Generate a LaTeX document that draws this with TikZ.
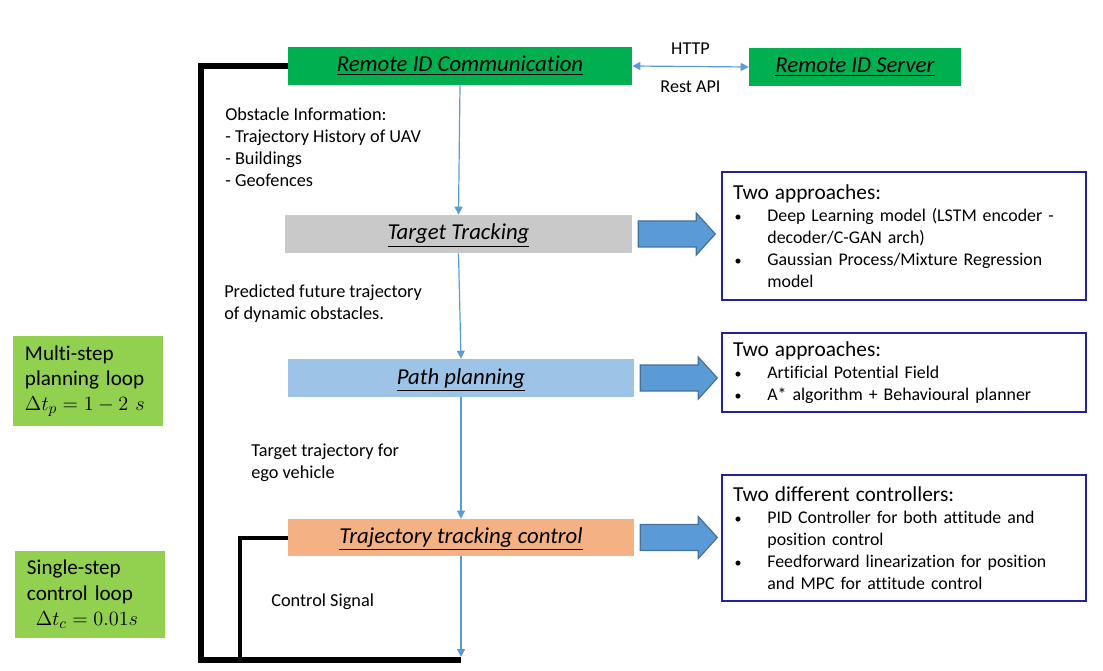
\documentclass[tikz,border=0pt]{standalone}
\usepackage{fontspec}
\setmainfont{Carlito}[Ligatures={NoCommon}]
\usetikzlibrary{arrows.meta,calc}

\definecolor{ridgreen}{HTML}{00B050}
\definecolor{trackgray}{HTML}{C9C9C9}
\definecolor{planblue}{HTML}{9DC3E6}
\definecolor{ctrlorange}{HTML}{F4B183}
\definecolor{loopgreen}{HTML}{92D050}
\definecolor{flowblue}{HTML}{5B9BD5}
\definecolor{arrowedge}{HTML}{41719C}
\definecolor{infoblue}{HTML}{2222A0}

\newcommand{\stagetitle}[1]{\underline{\textit{#1}}}
\newcommand{\infohead}[1]{{\fontsize{15.2}{17}\selectfont #1}}
\newcommand{\bitem}[1]{\par\noindent\makebox[8.6mm][l]{\hspace{0.4mm}{\fontsize{10}{10}\selectfont\textbullet}}%
  \parbox[t]{74mm}{\raggedright #1\par\xdef\itemdepth{\the\prevdepth}}\par\prevdepth=\itemdepth\relax}

\tikzset{
  stage/.style={minimum height=9.5mm, inner sep=0pt, text height=4mm, text depth=1mm, font=\fontsize{16.2}{18}\selectfont},
  looplabel/.style={fill=loopgreen, minimum width=37.5mm, text width=31.5mm, inner xsep=3mm, align=left, font=\fontsize{15}{18}\selectfont},
  infobox/.style={draw=infoblue, line width=0.35mm, minimum width=91mm, text width=85.5mm, inner xsep=2.75mm, align=left, font=\fontsize{12.7}{15.6}\selectfont},
  note/.style={anchor=north west, align=left, inner sep=0pt, font=\fontsize{13}{15.6}\selectfont},
  flow/.style={draw=flowblue, line width=0.3mm, -{Triangle[length=2mm,width=2mm]}},
  feedback/.style={line width=1.5mm},
  innerloop/.style={line width=1mm},
  blockarrow/.style={fill=flowblue, draw=arrowedge, line width=0.3mm}
}

\begin{document}
\begin{tikzpicture}[x=0.25mm, y=-0.25mm]
\useasboundingbox (0,0) rectangle (1103,671);

% main stages
\node[stage, fill=ridgreen, minimum width=86mm] (ric) at (460,66) {\stagetitle{Remote ID Communication}};
\node[stage, fill=ridgreen, minimum width=53mm] (ris) at (855,67) {\stagetitle{Remote ID Server}};
\node[stage, fill=trackgray, minimum width=86.75mm] (tt) at (458.5,234) {\stagetitle{Target Tracking}};
\node[stage, fill=planblue, minimum width=86.5mm] (pp) at (461,378) {\stagetitle{Path planning}};
\node[stage, fill=ctrlorange, minimum width=86.5mm, minimum height=9.25mm] (tc) at (461,537.5) {\stagetitle{Trajectory tracking control}};

% loop rates
\node[looplabel, minimum height=22.5mm] (multi) at (88,381) {Multi-step\\planning loop\\$\Delta t_p = 1-2\ s$};
\node[looplabel, minimum height=21.75mm] (single) at (90,594.5) {Single-step\\control loop\\\hspace{2.2mm}$\Delta t_c = 0.01s$};

% details
\node[infobox, minimum height=32mm] (ttinfo) at (904,236) {\infohead{Two approaches:}
  \bitem{Deep Learning model (LSTM encoder - decoder/C-GAN arch)}
  \bitem{Gaussian Process/Mixture Regression model}};
\node[infobox, minimum height=19.75mm] (ppinfo) at (904,372.5) {\infohead{Two approaches:}
  \bitem{Artificial Potential Field}
  \bitem{A* algorithm + Behavioural planner}};
\node[infobox, minimum height=31.5mm] (tcinfo) at (904,538) {\infohead{Two different controllers:}
  \bitem{PID Controller for both attitude and position control}
  \bitem{Feedforward linearization for position and MPC for attitude control}};

% data notes
\node[note] (obsnote) at (225,108) {Obstacle Information:\\- Trajectory History of UAV\\- Buildings\\- Geofences};
\node[note] (prednote) at (224,285) {Predicted future trajectory\\of dynamic obstacles.};
\node[note] (egonote) at (251,444) {Target trajectory for\\ego vehicle};
\node[note] (signote) at (271,594) {Control Signal};

\coordinate (loopleft) at (201,660);
\coordinate (loopend) at (461,660);
\coordinate (innerfoot) at (240,660);
\coordinate (signalend) at (461,657);

% feedback loops
\draw[feedback] (ric.west) -| (loopleft) -- (loopend);
\draw[innerloop] (tc.west) -| (innerfoot);

% flow
\draw[flow, {Triangle[length=2mm,width=2mm]}-{Triangle[length=2mm,width=2mm]}] (ric.east) -- (ris.west)
  node[midway, above=1.7mm] (http) {\fontsize{12.9}{14}\selectfont HTTP}
  node[midway, below=2.2mm] (rest) {\fontsize{12.9}{14}\selectfont Rest API};
\draw[flow] (ric.south) -- (tt.north);
\draw[flow] (tt.south) -- (pp.north);
\draw[flow] (pp.south) -- (tc.north);
\draw[flow] (tc.south) -- (signalend);

% block arrows
\foreach \n in {tt,pp,tc}
  \draw[blockarrow] ($(\n.east)+(6,-13)$) -- ++(58,0) -- ++(0,-8) -- ++(19,21) -- ++(-19,21) -- ++(0,-8) -- ++(-58,0) -- cycle;

\end{tikzpicture}
\end{document}
